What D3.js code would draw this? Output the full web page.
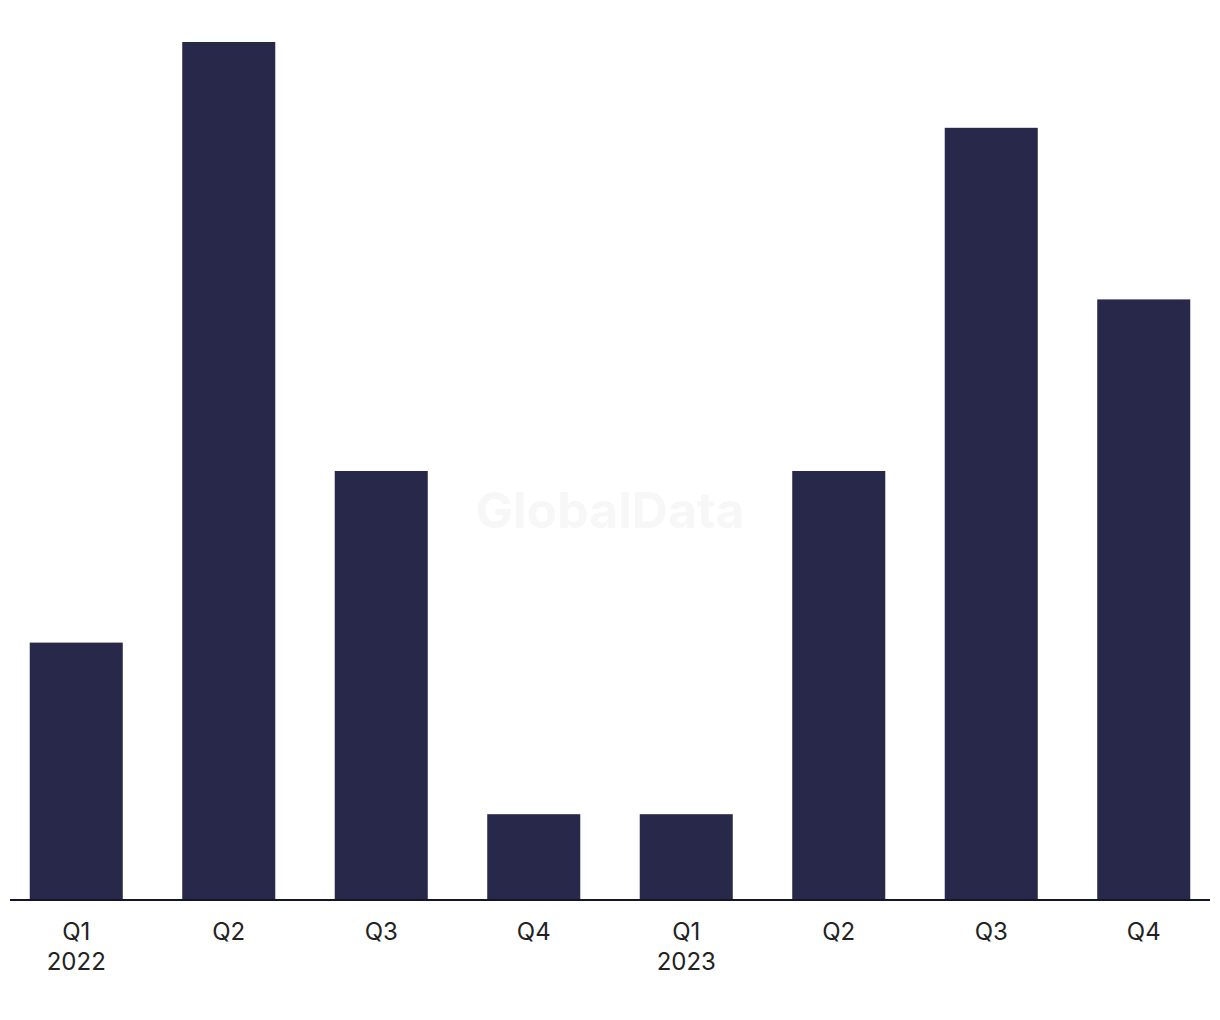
<!DOCTYPE html>
<html>
<head>
<meta charset="utf-8">
<script src="https://cdn.jsdelivr.net/npm/d3@7"></script>
<style>
  body { margin: 0; background: #fff; }
  svg { display: block; font-family: Inter, "Liberation Sans", Arial, sans-serif; }
</style>
</head>
<body>
<div id="chart"></div>
<script>
const quarters = ["Q1", "Q2", "Q3", "Q4", "Q1", "Q2", "Q3", "Q4"];
const years = ["2022", "", "", "", "2023", "", "", ""];
const deals = [3, 10, 5, 1, 1, 5, 9, 7];

const width = 1220,
  height = 1020,
  baseline = 900,
  plotTop = 42;

const svg = d3
  .select("#chart")
  .append("svg")
  .attr("width", width)
  .attr("height", height);

const x = d3
  .scaleBand()
  .domain(d3.range(deals.length))
  .range([0, width])
  .paddingInner(0.39)
  .paddingOuter(0.195);

const y = d3.scaleLinear().domain([0, 10]).range([baseline, plotTop]);

// watermark
svg
  .append("text")
  .attr("x", 610)
  .attr("y", 528)
  .attr("text-anchor", "middle")
  .attr("font-size", 50)
  .attr("font-weight", "bold")
  .attr("fill", "#f7f7f7")
  .text("GlobalData");

svg
  .selectAll("rect")
  .data(deals)
  .join("rect")
  .attr("x", (d, i) => x(i))
  .attr("y", (d) => y(d))
  .attr("width", x.bandwidth())
  .attr("height", (d) => baseline - y(d))
  .attr("fill", "#28284b");

svg
  .append("line")
  .attr("x1", 10)
  .attr("x2", 1210)
  .attr("y1", baseline)
  .attr("y2", baseline)
  .attr("stroke", "#15152a")
  .attr("stroke-width", 2);

const labels = svg
  .selectAll("text.lbl")
  .data(quarters)
  .join("text")
  .attr("class", "lbl")
  .attr("text-anchor", "middle")
  .attr("font-size", 24)
  .attr("fill", "#222");

labels
  .append("tspan")
  .attr("x", (d, i) => x(i) + x.bandwidth() / 2)
  .attr("y", 940)
  .text((d) => d);

labels
  .append("tspan")
  .attr("x", (d, i) => x(i) + x.bandwidth() / 2)
  .attr("y", 970)
  .text((d, i) => years[i]);
</script>
</body>
</html>
